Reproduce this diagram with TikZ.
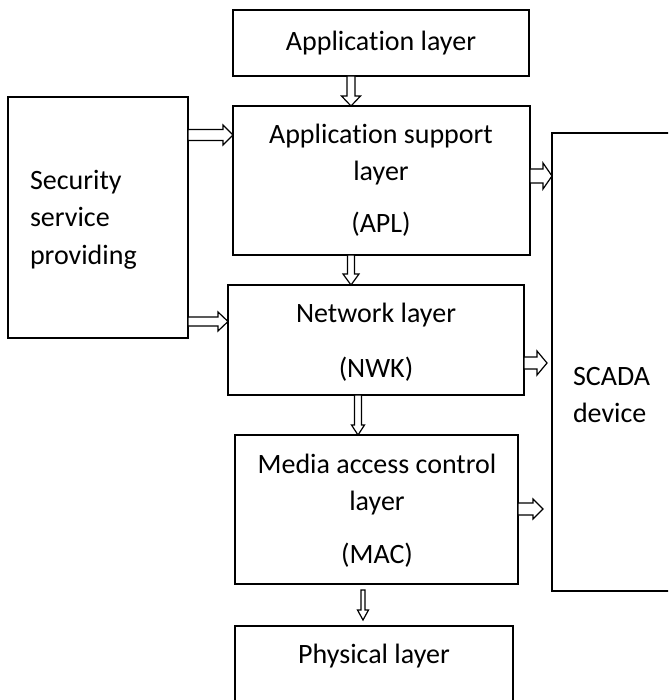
\documentclass[tikz,border=0pt]{standalone}
\usepackage{fontspec}
\setmainfont{Carlito}[Ligatures=NoCommon]
\usetikzlibrary{calc}
\begin{document}
\begin{tikzpicture}[x=1pt,y=-1pt,
  box/.style={draw, line width=1.6pt, inner sep=0pt, outer sep=0pt},
  txt/.style={font=\fontsize{28}{37}\selectfont, inner sep=0pt, outer sep=0pt, align=center},
  rarrow/.style n args={3}{draw, fill=white, line width=1.2pt, line join=miter, to path={
     -- ($(\tikztostart)+(0,-#1)$)
     -- ($(\tikztotarget)+(-#3,-#1)$)
     -- ($(\tikztotarget)+(-#3,-#2)$)
     -- (\tikztotarget)
     -- ($(\tikztotarget)+(-#3,#2)$)
     -- ($(\tikztotarget)+(-#3,#1)$)
     -- ($(\tikztostart)+(0,#1)$)
     -- cycle}},
  darrow/.style n args={3}{draw, fill=white, line width=1.2pt, line join=miter, to path={
     -- ($(\tikztostart)+(-#1,0)$)
     -- ($(\tikztotarget)+(-#1,-#3)$)
     -- ($(\tikztotarget)+(-#2,-#3)$)
     -- (\tikztotarget)
     -- ($(\tikztotarget)+(#2,-#3)$)
     -- ($(\tikztotarget)+(#1,-#3)$)
     -- ($(\tikztostart)+(#1,0)$)
     -- cycle}}]
\useasboundingbox (0,0) rectangle (668,700);
\clip (0,0) rectangle (668,700);

% boxes
\node[box, minimum width=296pt, minimum height=66pt] (app) at (381,43) {};
\node[box, minimum width=297pt, minimum height=149pt] (apl) at (381.5,180.5) {};
\node[box, minimum width=180pt, minimum height=241pt] (sec) at (98,217.5) {};
\node[box, minimum width=296pt, minimum height=110pt] (nwk) at (376,340) {};
\node[box, minimum width=283pt, minimum height=149pt] (mac) at (376.5,509.5) {};
\node[box, minimum width=278pt, minimum height=150pt, anchor=north] (phys) at (374,626) {};
\node[box, minimum width=200pt, minimum height=458pt] (scada) at (652,362) {};

% texts (anchor base = baseline of last line)
\node[txt, anchor=base] (appt) at (381,51) {Application layer};
\node[txt, anchor=base] (aplt) at (381,233) {Application support\\layer\\[15pt](APL)};
\node[txt, align=left, anchor=base west] (sect) at (30,264) {Security\\service\\providing};
\node[txt, anchor=base] (nwkt) at (376,377) {Network layer\\[18pt](NWK)};
\node[txt, anchor=base] (mact) at (377,563) {Media access control\\layer\\[16pt](MAC)};
\node[txt, anchor=base] (physt) at (374,663) {Physical layer};
\node[txt, align=left, anchor=base west] (scadat) at (573,422) {SCADA\\device};

% arrow end points
\coordinate (n2s) at ($(scada.west |- 0,363)+(-5,0)$);
\coordinate (m2s) at ($(scada.west |- 0,509)+(-9,0)$);
\coordinate (m2p) at ($(mac.south -| 363,0)+(0,6)$);
\coordinate (p2m) at ($(phys.north -| 363,0)+(0,-6)$);

% arrows
\draw[darrow={4}{9.5}{10}] (app.south -| 351,0) to (apl.north -| 351,0);
\draw[darrow={3.5}{8}{11}] (apl.south -| 351,0) to (nwk.north -| 351,0);
\draw[darrow={3.5}{6.5}{10}] (nwk.south -| 358,0) to (mac.north -| 358,0);
\draw[darrow={2}{5.5}{10}] (m2p) to (p2m);
\draw[rarrow={5.5}{10}{10}] (sec.east |- 0,135) to (apl.west |- 0,135);
\draw[rarrow={4.5}{9.5}{10}] (sec.east |- 0,321.5) to (nwk.west |- 0,321.5);
\draw[rarrow={7}{13}{9}] (apl.east |- 0,176) to (scada.west |- 0,176);
\draw[rarrow={6}{12}{10}] (nwk.east |- n2s) to (n2s);
\draw[rarrow={6}{10}{10}] (mac.east |- m2s) to (m2s);
\end{tikzpicture}
\end{document}
